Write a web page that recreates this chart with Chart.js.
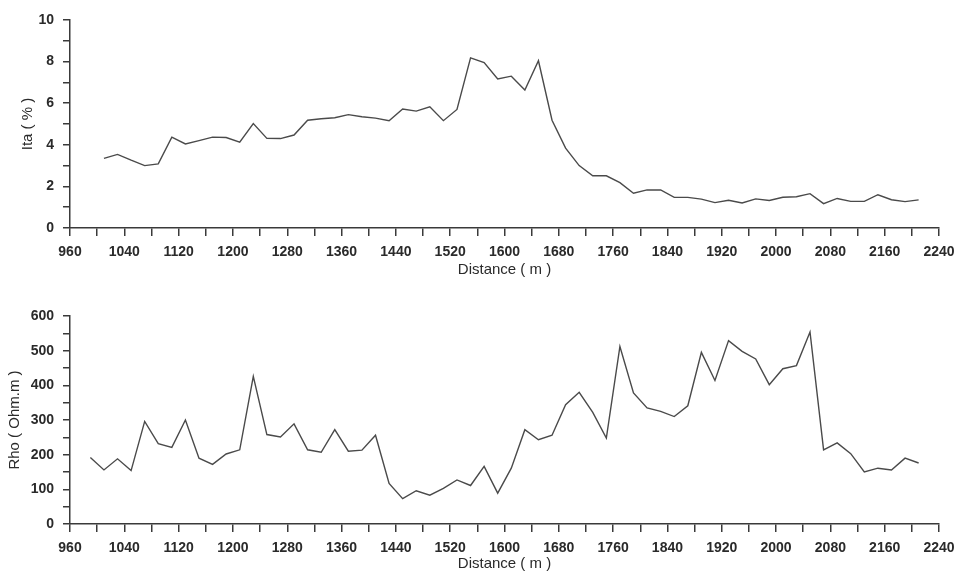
<!DOCTYPE html>
<html>
<head>
<meta charset="utf-8">
<script src="https://cdn.jsdelivr.net/npm/chart.js@4"></script>
<style>
  html, body { margin: 0; padding: 0; background: #fff; }
  canvas { display: block; }
</style>
</head>
<body>
<canvas id="itaChart" width="957" height="285"></canvas>
<canvas id="rhoChart" width="957" height="286"></canvas>
<script>
// Ita profile (1010 m .. 2210 m, every 20 m)
const itaDistance = [
  1010, 1030, 1050, 1070, 1090, 1110, 1130, 1150, 1170, 1190,
  1210, 1230, 1250, 1270, 1290, 1310, 1330, 1350, 1370, 1390,
  1410, 1430, 1450, 1470, 1490, 1510, 1530, 1550, 1570, 1590,
  1610, 1630, 1650, 1670, 1690, 1710, 1730, 1750, 1770, 1790,
  1810, 1830, 1850, 1870, 1890, 1910, 1930, 1950, 1970, 1990,
  2010, 2030, 2050, 2070, 2090, 2110, 2130, 2150, 2170, 2190,
  2210
];
const itaValues = [
  3.35, 3.54, 3.26, 3.0, 3.08, 4.37, 4.04, 4.2, 4.37, 4.35,
  4.13, 5.02, 4.31, 4.3, 4.47, 5.18, 5.25, 5.3, 5.45, 5.35,
  5.28, 5.16, 5.72, 5.62, 5.83, 5.16, 5.7, 8.18, 7.95, 7.17,
  7.3, 6.63, 8.04, 5.18, 3.84, 3.0, 2.51, 2.51, 2.18, 1.67,
  1.83, 1.83, 1.47, 1.47, 1.39, 1.22, 1.33, 1.2, 1.4, 1.32,
  1.48, 1.5, 1.65, 1.17, 1.42, 1.28, 1.28, 1.6, 1.36, 1.27,
  1.35
];

// Rho profile (990 m .. 2210 m, every 20 m)
const rhoDistance = [
  990, 1010, 1030, 1050, 1070, 1090, 1110, 1130, 1150, 1170,
  1190, 1210, 1230, 1250, 1270, 1290, 1310, 1330, 1350, 1370,
  1390, 1410, 1430, 1450, 1470, 1490, 1510, 1530, 1550, 1570,
  1590, 1610, 1630, 1650, 1670, 1690, 1710, 1730, 1750, 1770,
  1790, 1810, 1830, 1850, 1870, 1890, 1910, 1930, 1950, 1970,
  1990, 2010, 2030, 2050, 2070, 2090, 2110, 2130, 2150, 2170,
  2190, 2210
];
const rhoValues = [
  192, 156, 188, 154, 296, 232, 221, 300, 190, 172,
  202, 214, 426, 258, 251, 289, 214, 207, 272, 210,
  213, 256, 117, 73, 96, 83, 103, 127, 111, 166,
  89, 161, 272, 243, 256, 344, 380, 322, 248, 512,
  378, 335, 325, 310, 341, 495, 414, 529, 498, 476,
  402, 448, 457, 554, 214, 234, 203, 150, 161, 156,
  190, 176
];

const xTicksEvery = 40;
const xLabelsEvery = 80;

const axisColor = "#3a3a3a";
const lineColor = "#4a4a4a";
const textColor = "#2a2a2a";
const fontFamily = "'Liberation Sans', Arial, sans-serif";

function toPoints(xs, ys) {
  return xs.map((x, i) => ({ x: x, y: ys[i] }));
}

function makeConfig(xs, ys, opts) {
  return {
    type: "line",
    data: {
      datasets: [
        {
          data: toPoints(xs, ys),
          borderColor: lineColor,
          borderWidth: 1.4,
          pointRadius: 0,
          tension: 0,
          fill: false,
        },
      ],
    },
    options: {
      responsive: false,
      animation: false,
      layout: { padding: { top: opts.top, right: 18, left: 0, bottom: 0 } },
      plugins: { legend: { display: false }, tooltip: { enabled: false } },
      scales: {
        x: {
          type: "linear",
          min: 960,
          max: 2240,
          afterFit: (scale) => {
            scale.height = opts.xHeight;
            // keep the plot edges fixed, labels may overhang
            scale.paddingLeft = 0;
            scale.paddingRight = 0;
          },
          border: { display: true, color: axisColor, width: 1.5 },
          grid: {
            drawOnChartArea: false,
            drawTicks: true,
            tickLength: 8,
            color: axisColor,
            lineWidth: 1.5,
          },
          ticks: {
            stepSize: xTicksEvery,
            autoSkip: false,
            maxRotation: 0,
            padding: 8,
            color: textColor,
            font: { family: fontFamily, size: 14, weight: "bold" },
            callback: (v) => (v % xLabelsEvery === 0 ? v : ""),
          },
          title: {
            display: true,
            text: "Distance ( m )",
            color: textColor,
            font: { family: fontFamily, size: 15 },
            padding: { top: 0, bottom: opts.xTitlePad },
          },
        },
        y: {
          min: 0,
          max: opts.yMax,
          afterFit: (scale) => {
            scale.width = 70;
          },
          border: { display: true, color: axisColor, width: 1.5 },
          grid: {
            drawOnChartArea: false,
            drawTicks: true,
            tickLength: 7,
            color: axisColor,
            lineWidth: 1.5,
          },
          ticks: {
            stepSize: opts.yMinor,
            autoSkip: false,
            padding: 9,
            color: textColor,
            font: { family: fontFamily, size: 14, weight: "bold" },
            callback: (v) => (v % opts.yMajor === 0 ? v : ""),
          },
          title: {
            display: true,
            text: opts.yTitle,
            color: textColor,
            font: { family: fontFamily, size: 15 },
            padding: { top: opts.yTitlePad, bottom: 0 },
          },
        },
      },
    },
  };
}

const itaChart = new Chart(
  document.getElementById("itaChart"),
  makeConfig(itaDistance, itaValues, {
    top: 20,
    xHeight: 57,
    xTitlePad: 6,
    yMax: 10,
    yMinor: 1,
    yMajor: 2,
    yTitle: "Ita ( % )",
    yTitlePad: 19,
  })
);

const rhoChart = new Chart(
  document.getElementById("rhoChart"),
  makeConfig(rhoDistance, rhoValues, {
    top: 31,
    xHeight: 47,
    xTitlePad: -2,
    yMax: 600,
    yMinor: 50,
    yMajor: 100,
    yTitle: "Rho ( Ohm.m )",
    yTitlePad: 6,
  })
);
</script>
</body>
</html>
